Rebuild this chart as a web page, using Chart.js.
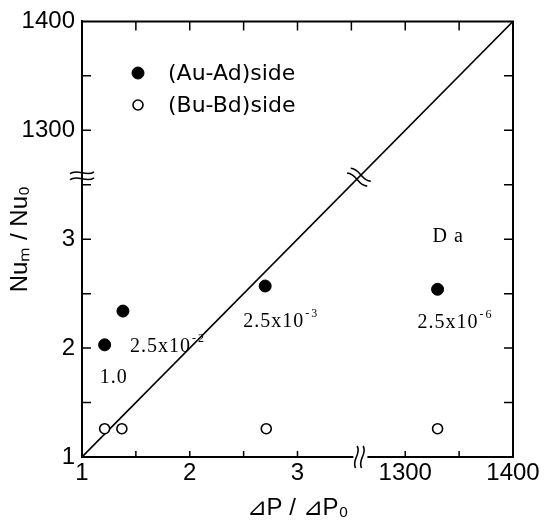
<!DOCTYPE html>
<html>
<head>
<meta charset="utf-8">
<script src="https://cdn.jsdelivr.net/npm/chart.js@4.4.1/dist/chart.umd.min.js"></script>
<style>
  html, body { margin: 0; padding: 0; background: #fff; }
</style>
</head>
<body>
<canvas id="nuChart" width="544" height="527"></canvas>
<script>
// tick labels on the broken axes (index 0..4)
var xTickText = ['1', '2', '3', '1300', '1400'];
var yTickText = ['1', '2', '3', '1300', '1400'];

// (Au-Ad) side - filled circles
var auX = [1.21, 1.38, 2.70, 1330];
var auY = [2.03, 2.34, 2.57, 2.54];
// (Bu-Bd) side - open circles
var buX = [1.21, 1.37, 2.71, 1330];
var buY = [1.26, 1.26, 1.26, 1.26];
// Da values next to the filled points
var daText = ['1.0', '2.5x10', '2.5x10', '2.5x10'];
var daExp = ['', '-2', '-3', '-6'];
// diagonal Nu_m/Nu_0 = dP/dP_0
var diagX = [1, 1400];
var diagY = [1, 1400];

// broken axis: 1..3 then 1300..1400
function brk(v) { return v <= 3 ? v - 1 : 3 + (v - 1300) / 100; }
function pts(xs, ys) { return xs.map(function(x, i) { return {x: brk(x), y: brk(ys[i])}; }); }

var sans = 'Liberation Sans';
var serif = 'Liberation Serif';

function tilde(ctx, cx, cy, ang, L, A) {
  ctx.save();
  ctx.translate(cx, cy);
  ctx.rotate(ang);
  ctx.beginPath();
  ctx.moveTo(-L, A * 0.4);
  ctx.bezierCurveTo(-L / 3, -A * 2.2, L / 3, A * 2.2, L, -A * 0.4);
  ctx.stroke();
  ctx.restore();
}

var extras = {
  id: 'extras',
  afterDatasetsDraw: function(chart) {
    var ctx = chart.ctx, a = chart.chartArea;
    var xs = chart.scales.x, ys = chart.scales.y;
    ctx.save();
    ctx.strokeStyle = '#000';
    ctx.fillStyle = '#000';
    ctx.lineWidth = 2;
    // top and right frame
    ctx.beginPath();
    ctx.moveTo(a.left - 1, a.top);
    ctx.lineTo(a.right, a.top);
    ctx.lineTo(a.right, a.bottom + 1);
    ctx.stroke();

    // inward ticks every half unit
    ctx.lineWidth = 1.5;
    for (var k = 0.5; k < 4; k += 0.5) {
      var px = xs.getPixelForValue(k), py = ys.getPixelForValue(k);
      ctx.beginPath();
      if (k !== 2.5) { ctx.moveTo(px, a.bottom); ctx.lineTo(px, a.bottom - 6); }
      ctx.moveTo(px, a.top); ctx.lineTo(px, a.top + 9);
      ctx.moveTo(a.left, py); ctx.lineTo(a.left + 9, py);
      ctx.moveTo(a.right, py); ctx.lineTo(a.right - 9, py);
      ctx.stroke();
    }

    // axis breaks
    ctx.lineWidth = 1.6;
    var bx = xs.getPixelForValue(2.5);
    ctx.fillStyle = '#fff';
    ctx.fillRect(bx + 2, a.bottom - 3, 14, 6);
    ctx.fillStyle = '#000';
    tilde(ctx, bx + 5, a.bottom, Math.PI / 2 + 0.15, 11, 2.2);
    tilde(ctx, bx + 11, a.bottom, Math.PI / 2 + 0.15, 11, 2.2);
    var by = ys.getPixelForValue(2.5);
    tilde(ctx, a.left, by - 12, 0, 12, 2.2);
    tilde(ctx, a.left, by - 6, 0, 12, 2.2);
    var dx = xs.getPixelForValue(2.57), dy = ys.getPixelForValue(2.57);
    var ang = 0.65, ox = -Math.sin(ang) * 3, oy = Math.cos(ang) * 3;
    tilde(ctx, dx - ox, dy - oy, ang, 12, 2.2);
    tilde(ctx, dx + ox, dy + oy, ang, 12, 2.2);

    // legend inside the plot
    ctx.font = '22px "DejaVu Sans"';
    ctx.textBaseline = 'middle';
    ctx.textAlign = 'left';
    [0, 1].forEach(function(i) {
      var ds = chart.data.datasets[i];
      var lx = 138, ly = 73 + i * 32;
      ctx.beginPath();
      ctx.arc(lx, ly, ds.pointRadius, 0, Math.PI * 2);
      ctx.fillStyle = ds.pointBackgroundColor;
      ctx.fill();
      ctx.lineWidth = ds.pointBorderWidth;
      ctx.stroke();
      ctx.fillStyle = '#000';
      ctx.fillText(ds.label, 168, ly + 1);
    });

    // Da annotations
    var offs = [[-5, 38], [7, 41], [-22, 41], [-20, 39]];
    ctx.textBaseline = 'alphabetic';
    daText.forEach(function(t, i) {
      var px = xs.getPixelForValue(brk(auX[i])) + offs[i][0];
      var py = ys.getPixelForValue(brk(auY[i])) + offs[i][1];
      ctx.font = '20px "' + serif + '"';
      ctx.letterSpacing = '1px';
      ctx.fillText(t, px, py);
      var w = ctx.measureText(t).width;
      if (daExp[i]) {
        ctx.font = '12px "' + serif + '"';
        ctx.letterSpacing = '2px';
        ctx.fillText(daExp[i], px + w + 1, py - 10);
      }
    });
    ctx.font = '20px "' + serif + '"';
    ctx.letterSpacing = '1px';
    ctx.fillText('D a', xs.getPixelForValue(brk(auX[3])) - 5, ys.getPixelForValue(brk(auY[3])) - 47);
    ctx.restore();
  }
};

new Chart('nuChart', {
  type: 'scatter',
  data: {
    datasets: [{
      label: '(Au-Ad)side',
      data: pts(auX, auY),
      pointRadius: 6,
      pointBackgroundColor: '#000',
      pointBorderColor: '#000',
      pointBorderWidth: 1
    }, {
      label: '(Bu-Bd)side',
      data: pts(buX, buY),
      pointRadius: 5,
      pointBackgroundColor: '#fff',
      pointBorderColor: '#000',
      pointBorderWidth: 1.6
    }, {
      type: 'line',
      label: '',
      data: pts(diagX, diagY),
      borderColor: '#000',
      borderWidth: 1.6,
      pointRadius: 0,
      fill: false
    }]
  },
  options: {
    responsive: false,
    animation: false,
    layout: { padding: { left: 0, top: 20, right: 31, bottom: 0 } },
    plugins: { legend: { display: false }, tooltip: { enabled: false } },
    scales: {
      x: {
        type: 'linear', min: 0, max: 4,
        afterFit: function(s) { s.height = 70; },
        border: { color: '#000', width: 2 },
        grid: { display: false, drawTicks: false },
        ticks: {
          stepSize: 1, autoSkip: false, maxRotation: 0, padding: 2, color: '#000',
          font: { family: sans, size: 24 },
          callback: function(v) { return xTickText[v] !== undefined ? xTickText[v] : ''; }
        },
        title: {
          display: true, text: '⊿P / ⊿P₀', color: '#000',
          font: { family: sans, size: 24 }, padding: { bottom: 4 }
        }
      },
      y: {
        type: 'linear', min: 0, max: 4,
        afterFit: function(s) { s.width = 82; },
        border: { color: '#000', width: 2 },
        grid: { display: false, drawTicks: false },
        ticks: {
          stepSize: 1, autoSkip: false, padding: 7, color: '#000',
          font: { family: sans, size: 24 },
          callback: function(v) { return yTickText[v] !== undefined ? yTickText[v] : ''; }
        },
        title: {
          display: true, text: 'Nuₘ / Nu₀', color: '#000',
          font: { family: sans, size: 24 }, padding: { top: 6 }
        }
      }
    }
  },
  plugins: [extras]
});
</script>
</body>
</html>
